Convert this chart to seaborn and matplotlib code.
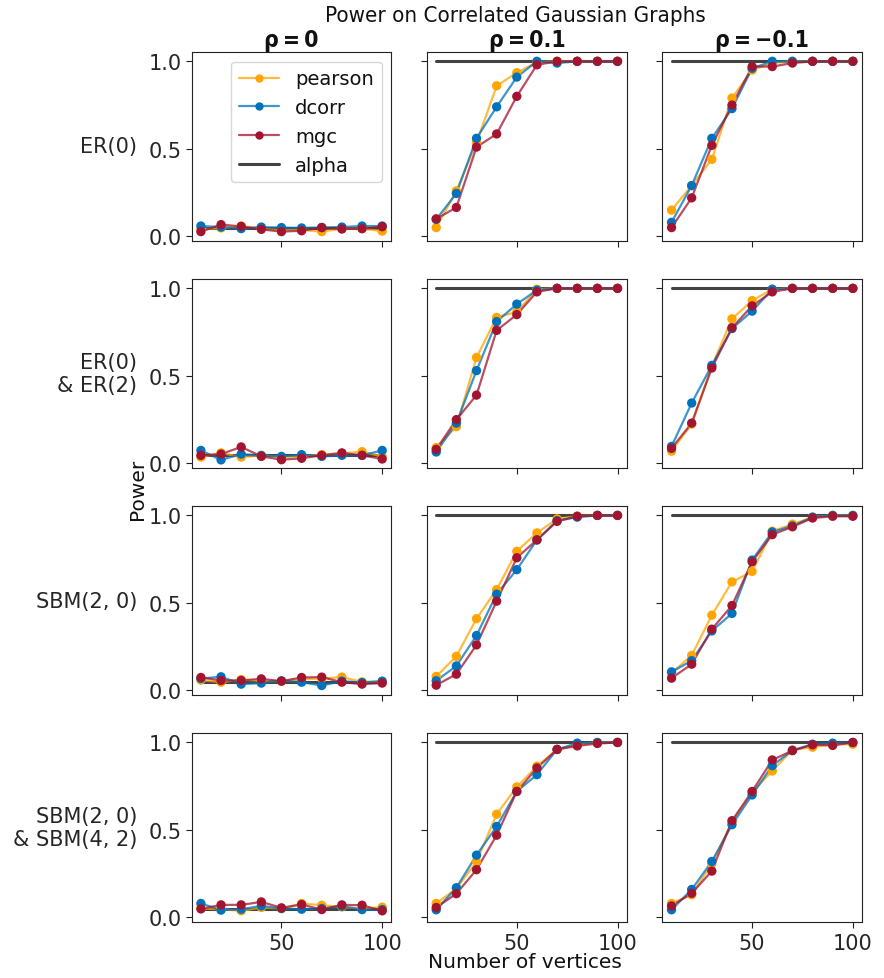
import numpy as np
import pandas as pd
import matplotlib
matplotlib.use("Agg")
import matplotlib.pyplot as plt
import matplotlib.ticker as ticker
from matplotlib.lines import Line2D
import matplotlib.colors as mcolors
import seaborn as sns

# numero de vertices
n_vertices = [10, 20, 30, 40, 50, 60, 70, 80, 90, 100]

# colunas: rho = 0, rho = 0.1, rho = -0.1
col_titles = ["ρ\u2009=\u20090", "ρ\u2009=\u20090.1", "ρ\u2009=\u2009−0.1"]
row_titles = ["ER(0)", "ER(0)\n& ER(2)", "SBM(2, 0)", "SBM(2, 0)\n& SBM(4, 2)"]
methods = ["pearson", "dcorr", "mgc"]
alpha_levels = [0.05, 1.0, 1.0]

# ER(0)
er_pearson = [
    [0.04, 0.048, 0.059, 0.044, 0.034, 0.036, 0.027, 0.044, 0.044, 0.03],
    [0.05, 0.26, 0.535, 0.86, 0.935, 0.995, 1.0, 1.0, 1.0, 1.0],
    [0.15, 0.29, 0.44, 0.79, 0.95, 0.99, 1.0, 1.0, 1.0, 1.0],
]
er_dcorr = [
    [0.059, 0.053, 0.044, 0.053, 0.05, 0.048, 0.051, 0.053, 0.059, 0.059],
    [0.097, 0.245, 0.56, 0.74, 0.91, 1.0, 0.99, 1.0, 1.0, 1.0],
    [0.08, 0.29, 0.56, 0.73, 0.96, 1.0, 1.0, 1.0, 1.0, 1.0],
]
er_mgc = [
    [0.027, 0.067, 0.057, 0.04, 0.027, 0.032, 0.05, 0.042, 0.044, 0.055],
    [0.10, 0.165, 0.51, 0.585, 0.80, 0.98, 1.0, 1.0, 1.0, 1.0],
    [0.05, 0.22, 0.52, 0.75, 0.97, 0.97, 0.99, 1.0, 1.0, 1.0],
]

# ER(0) & ER(2)
er2_pearson = [
    [0.036, 0.06, 0.036, 0.046, 0.036, 0.04, 0.05, 0.057, 0.067, 0.04],
    [0.09, 0.21, 0.605, 0.834, 0.866, 0.995, 1.0, 1.0, 1.0, 1.0],
    [0.07, 0.225, 0.555, 0.826, 0.93, 0.995, 1.0, 1.0, 1.0, 1.0],
]
er2_dcorr = [
    [0.074, 0.02, 0.053, 0.045, 0.04, 0.05, 0.04, 0.046, 0.046, 0.074],
    [0.065, 0.23, 0.53, 0.81, 0.91, 0.99, 1.0, 1.0, 1.0, 1.0],
    [0.097, 0.345, 0.56, 0.77, 0.87, 0.995, 1.0, 1.0, 1.0, 1.0],
]
er2_mgc = [
    [0.046, 0.053, 0.094, 0.04, 0.021, 0.029, 0.046, 0.06, 0.046, 0.025],
    [0.08, 0.25, 0.39, 0.76, 0.85, 0.98, 1.0, 1.0, 1.0, 1.0],
    [0.086, 0.23, 0.545, 0.775, 0.90, 0.98, 1.0, 1.0, 1.0, 1.0],
]

# SBM(2, 0)
sbm_pearson = [
    [0.059, 0.047, 0.062, 0.055, 0.053, 0.064, 0.068, 0.076, 0.049, 0.051],
    [0.08, 0.195, 0.41, 0.576, 0.795, 0.90, 0.98, 0.996, 1.0, 1.0],
    [0.10, 0.20, 0.43, 0.62, 0.68, 0.91, 0.95, 0.99, 1.0, 1.0],
]
sbm_dcorr = [
    [0.068, 0.078, 0.036, 0.042, 0.055, 0.047, 0.028, 0.053, 0.045, 0.053],
    [0.055, 0.14, 0.314, 0.55, 0.69, 0.86, 0.97, 0.99, 1.0, 1.0],
    [0.106, 0.17, 0.34, 0.44, 0.745, 0.905, 0.94, 0.99, 1.0, 1.0],
]
sbm_mgc = [
    [0.074, 0.057, 0.057, 0.066, 0.053, 0.074, 0.076, 0.047, 0.036, 0.042],
    [0.03, 0.093, 0.26, 0.51, 0.758, 0.86, 0.966, 0.995, 1.0, 1.0],
    [0.07, 0.15, 0.35, 0.485, 0.735, 0.89, 0.935, 0.985, 0.995, 0.995],
]

# SBM(2, 0) & SBM(4, 2)
sbm2_pearson = [
    [0.051, 0.047, 0.038, 0.057, 0.051, 0.08, 0.07, 0.06, 0.051, 0.059],
    [0.08, 0.165, 0.32, 0.59, 0.746, 0.864, 0.96, 0.987, 1.0, 1.0],
    [0.08, 0.13, 0.307, 0.545, 0.716, 0.837, 0.957, 0.973, 0.99, 0.99],
]
sbm2_dcorr = [
    [0.08, 0.042, 0.047, 0.066, 0.051, 0.047, 0.051, 0.064, 0.045, 0.045],
    [0.044, 0.17, 0.356, 0.52, 0.72, 0.816, 0.96, 0.996, 1.0, 1.0],
    [0.044, 0.16, 0.32, 0.53, 0.70, 0.867, 0.955, 0.99, 0.996, 1.0],
]
sbm2_mgc = [
    [0.049, 0.072, 0.072, 0.089, 0.055, 0.074, 0.045, 0.072, 0.07, 0.038],
    [0.057, 0.136, 0.273, 0.47, 0.72, 0.854, 0.96, 0.98, 0.994, 1.0],
    [0.066, 0.138, 0.265, 0.553, 0.72, 0.90, 0.953, 0.987, 0.983, 1.0],
]

results = [
    (er_pearson, er_dcorr, er_mgc),
    (er2_pearson, er2_dcorr, er2_mgc),
    (sbm_pearson, sbm_dcorr, sbm_mgc),
    (sbm2_pearson, sbm2_dcorr, sbm2_mgc),
]

palette = {"pearson": "#FFA500", "dcorr": "#0072BD", "mgc": "#A2142F"}
line_alpha = 0.75
alpha_color = "#222222"

# monta o dataframe longo
rows = []
for i, trio in enumerate(results):
    for name, series in zip(methods, trio):
        for j, vals in enumerate(series):
            for n, p in zip(n_vertices, vals):
                rows.append({"row": i, "col": j, "method": name, "n": n, "power": p})
df = pd.DataFrame(rows)

sns.set_style("ticks")
plt.rcParams["font.family"] = ["DejaVu Sans"]
plt.rcParams["font.size"] = 14
plt.rcParams["axes.edgecolor"] = "#222222"
plt.rcParams["text.color"] = "#111111"

fig, axes = plt.subplots(4, 3, figsize=(8.84, 9.79), dpi=100, sharex=True, sharey=True)
fig.subplots_adjust(left=0.217, right=0.975, top=0.946, bottom=0.057, wspace=0.18, hspace=0.2)

for i in range(4):
    for j in range(3):
        ax = axes[i, j]
        sub = df[(df["row"] == i) & (df["col"] == j)]
        ax.plot(n_vertices, [alpha_levels[j]] * len(n_vertices), color=alpha_color,
                alpha=line_alpha + 0.1, lw=2.2, zorder=1)
        sns.lineplot(data=sub, x="n", y="power", hue="method", hue_order=methods,
                     palette=palette, alpha=line_alpha, lw=1.6, errorbar=None,
                     legend=False, ax=ax, zorder=2)
        sns.scatterplot(data=sub, x="n", y="power", hue="method", hue_order=methods,
                        palette=palette, s=45, linewidth=0, legend=False, ax=ax, zorder=3)
        ax.set_xlabel("")
        ax.set_ylabel("")
        ax.xaxis.set_major_locator(ticker.MultipleLocator(50))
        ax.yaxis.set_major_locator(ticker.MultipleLocator(0.5))
        ax.set_ylim(-0.027, 1.054)
        ax.set_xlim(5.5, 104.5)
        ax.tick_params(labelsize=15, length=4, color="#222222")
        if i == 0:
            ax.set_title(col_titles[j], fontsize=16.5, fontweight="bold",
                         fontstretch="condensed", pad=4)
        if j == 0:
            ax.set_ylabel(row_titles[i], rotation=0, ha="right", va="center", fontsize=15)
            ax.yaxis.set_label_coords(-0.275, 0.5)

handles = []
for m in methods:
    rgba = mcolors.to_rgba(palette[m], line_alpha)
    handles.append(Line2D([], [], color=rgba, marker="o", markersize=6,
                          markerfacecolor=palette[m], markeredgewidth=0, lw=1.6))
handles.append(Line2D([], [], color=alpha_color, alpha=line_alpha + 0.1, lw=2.2))
axes[0, 0].legend(handles, methods + ["alpha"], loc="upper right", fontsize=14,
                  frameon=True, handlelength=2.1, borderaxespad=0.5)

fig.suptitle("Power on Correlated Gaussian Graphs", fontsize=16,
             fontstretch="condensed", x=0.583, y=0.994)
fig.text(0.156, 0.5, "Power", rotation=90, ha="center", va="center", fontsize=14.5)
fig.text(0.594, 0.017, "Number of vertices", ha="center", va="center", fontsize=14.5)

plt.savefig("out.png", dpi=100)
